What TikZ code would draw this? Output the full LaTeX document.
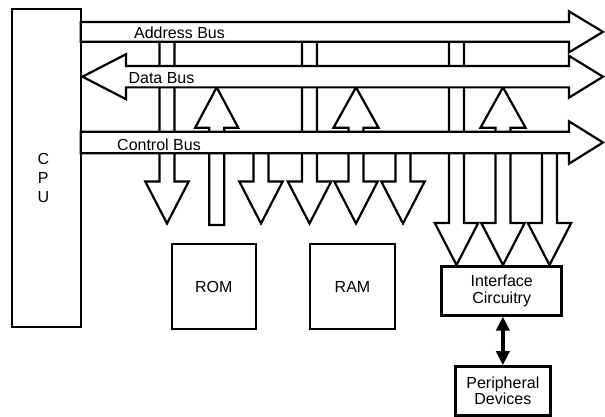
\documentclass[tikz,border=0pt]{standalone}
\usepackage{fontspec}
\setmainfont{Liberation Sans}
\usetikzlibrary{calc,arrows.meta}

\tikzset{
  sw/.store in=\fsw, hw/.store in=\fhw, hl/.store in=\fhl,
  hwa/.store in=\fhwa, hla/.store in=\fhla,
  sw=7.5pt, hw=21.7pt, hl=42pt, hwa=22.5pt, hla=40.4pt,
  fatline/.style={draw=black, line width=2.2pt, fill=white, line join=miter},
  fat/.style={fatline, to path={
    let \p1=(\tikztostart), \p2=(\tikztotarget),
        \n1={veclen(\x2-\x1,\y2-\y1)},
        \n2={(\x2-\x1)/\n1}, \n3={(\y2-\y1)/\n1}
    in ({\x1-(\n3)*\fsw},{\y1+(\n2)*\fsw})
    -- ({\x2-(\n2)*\fhl-(\n3)*\fsw},{\y2-(\n3)*\fhl+(\n2)*\fsw})
    -- ({\x2-(\n2)*\fhl-(\n3)*\fhw},{\y2-(\n3)*\fhl+(\n2)*\fhw})
    -- (\x2,\y2)
    -- ({\x2-(\n2)*\fhl+(\n3)*\fhw},{\y2-(\n3)*\fhl-(\n2)*\fhw})
    -- ({\x2-(\n2)*\fhl+(\n3)*\fsw},{\y2-(\n3)*\fhl-(\n2)*\fsw})
    -- ({\x1+(\n3)*\fsw},{\y1-(\n2)*\fsw}) -- cycle}},
  fatdbl/.style={fatline, to path={
    let \p1=(\tikztostart), \p2=(\tikztotarget),
        \n1={veclen(\x2-\x1,\y2-\y1)},
        \n2={(\x2-\x1)/\n1}, \n3={(\y2-\y1)/\n1}
    in (\x1,\y1)
    -- ({\x1+(\n2)*\fhla-(\n3)*\fhwa},{\y1+(\n3)*\fhla+(\n2)*\fhwa})
    -- ({\x1+(\n2)*\fhla-(\n3)*\fsw},{\y1+(\n3)*\fhla+(\n2)*\fsw})
    -- ({\x2-(\n2)*\fhl-(\n3)*\fsw},{\y2-(\n3)*\fhl+(\n2)*\fsw})
    -- ({\x2-(\n2)*\fhl-(\n3)*\fhw},{\y2-(\n3)*\fhl+(\n2)*\fhw})
    -- (\x2,\y2)
    -- ({\x2-(\n2)*\fhl+(\n3)*\fhw},{\y2-(\n3)*\fhl-(\n2)*\fhw})
    -- ({\x2-(\n2)*\fhl+(\n3)*\fsw},{\y2-(\n3)*\fhl-(\n2)*\fsw})
    -- ({\x1+(\n2)*\fhla+(\n3)*\fsw},{\y1+(\n3)*\fhla-(\n2)*\fsw})
    -- ({\x1+(\n2)*\fhla+(\n3)*\fhwa},{\y1+(\n3)*\fhla-(\n2)*\fhwa})
    -- cycle}},
  box/.style={draw=black, line width=2.2pt, inner sep=0pt},
  lbl/.style={inner sep=0pt},
}

\begin{document}
\begin{tikzpicture}[x=1pt, y=-1pt, font=\fontsize{16}{18}\selectfont]
\useasboundingbox (0,0) rectangle (605,416);

% ---- connector end points ----
\coordinate (romA1) at (167,36);    \coordinate (romA2) at (167,223.5);
\coordinate (romD1) at (216.7,225); \coordinate (romD2) at (216.7,87.3);
\coordinate (romC1) at (261,148);   \coordinate (romC2) at (261,223.5);
\coordinate (ramA1) at (309.5,36);  \coordinate (ramA2) at (309.5,223.5);
\coordinate (ramD1) at (356,87.3);  \coordinate (ramD2) at (356,223.5);
\coordinate (ramC1) at (403,148);   \coordinate (ramC2) at (403,223.5);
\coordinate (ifA1) at (456.5,36);   \coordinate (ifA2) at (456.5,265);
\coordinate (ifD1) at (503,87.3);   \coordinate (ifD2) at (503,265);
\coordinate (ifC1) at (549.5,148);  \coordinate (ifC2) at (549.5,265);

% ---- vertical fat arrows (drawn first, buses cover them) ----
\draw[fat] (romA1) to (romA2);
\draw[fat, hw=21.5pt, hl=40.4pt] (romD1) to (romD2);
\draw[fat] (romC1) to (romC2);
\draw[fat] (ramA1) to (ramA2);
\draw[fatdbl] (ramD1) to (ramD2);
\draw[fat] (ramC1) to (ramC2);
\draw[fat] (ifA1) to (ifA2);
\draw[fatdbl] (ifD1) to (ifD2);
\draw[fat] (ifC1) to (ifC2);

% ---- buses ----
\coordinate (abS) at (80.7,31.85);  \coordinate (abE) at (603,31.85);
\coordinate (dbS) at (82.5,76.7);   \coordinate (dbE) at (603,76.7);
\coordinate (cbS) at (80.7,142.5);  \coordinate (cbE) at (603,142.5);
\draw[fat, sw=9.85pt, hw=20.5pt, hl=34pt] (abS) to (abE);
\draw[fatdbl, sw=10.65pt, hwa=22.5pt, hla=43.5pt, hw=20.9pt, hl=34pt] (dbS) to (dbE);
\draw[fat, sw=10.8pt, hw=21.2pt, hl=34pt] (cbS) to (cbE);

\node[lbl] (ablbl) at (179.5,32.8) {Address Bus};
\node[lbl] (dblbl) at (161.5,78) {Data Bus};
\node[lbl] (cblbl) at (159,144.7) {Control Bus};

% ---- boxes ----
\node[box, outer sep=0pt, minimum width=68.7pt, minimum height=318pt] (cpu) at (46.35,168.3) {};
\node[lbl, align=center, font=\fontsize{16}{18.7}\selectfont] (cputxt) at (43.3,178) {C\\P\\U};
\node[box, minimum width=84.3pt, minimum height=85.3pt] (rom) at (213.85,286.65) {ROM};
\node[box, minimum width=85pt, minimum height=85.3pt] (ram) at (352.5,286.65) {RAM};
\node[box, line width=3pt, minimum width=120pt, minimum height=48.3pt, align=center,
      font=\fontsize{16}{17.3}\selectfont] (ifc) at (501.7,290.85) {Interface\\Circuitry};
\node[box, line width=3pt, minimum width=95.7pt, minimum height=48.3pt, align=center,
      font=\fontsize{16}{16.7}\selectfont] (per) at (502.85,390.85) {Peripheral\\Devices};

\draw[line width=4.5pt, {Triangle[width=13pt,length=14pt]}-{Triangle[width=13pt,length=14pt]}]
  (ifc.south -| per.north) -- (per.north);
\end{tikzpicture}
\end{document}
